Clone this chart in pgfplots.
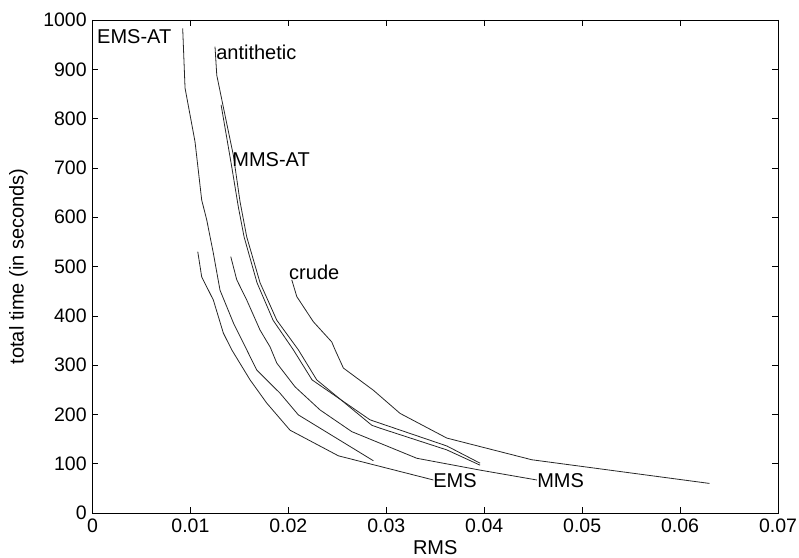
\documentclass[border=0pt]{standalone}
\usepackage{fontspec}
\setmainfont{Liberation Sans}
\usepackage{pgfplots}
\pgfplotsset{compat=1.18}

\begin{document}
\fontsize{20pt}{24pt}\selectfont
\begin{tikzpicture}[x=1pt,y=1pt]
\useasboundingbox (-92.5,-44) rectangle (706.5,513);
\begin{axis}[
    scale only axis,
    width=685.5pt, height=493pt,
    xmin=0, xmax=0.07,
    ymin=0, ymax=1000,
    xtick={0,0.01,...,0.07},
    ytick={0,100,...,1000},
    xticklabel style={/pgf/number format/fixed, /pgf/number format/precision=2},
    yticklabel style={/pgf/number format/1000 sep={}},
    scaled x ticks=false,
    /pgf/number format/assume math mode=true,
    tick label style={font=\fontsize{19.5pt}{23pt}\selectfont},
    label style={font=\fontsize{20pt}{24pt}\selectfont},
    xticklabel style={yshift=1pt},
    yticklabel style={xshift=1pt},
    xlabel={RMS},
    ylabel={total time (in seconds)},
    xlabel style={yshift=6pt},
    ylabel style={yshift=2pt},
    tick align=inside,
    major tick length=6pt,
    axis line style={black, line width=0.8pt},
    every tick/.style={black, line width=0.6pt},
    clip=false,
]
% EMS-AT
\addplot[black!85, line width=0.8pt] coordinates {
 (0.00921,983) (0.00945,862) (0.01047,753) (0.01115,635) (0.01167,594)
 (0.01234,527) (0.01302,452) (0.0144,385) (0.01575,331)
 (0.01677,290) (0.01915,243) (0.02102,199) (0.02868,106)
};
% EMS
\addplot[black!85, line width=0.8pt] coordinates {
 (0.01075,530) (0.01115,479) (0.01234,432) (0.01336,365) (0.01422,331)
 (0.01609,270) (0.01779,223) (0.02017,168) (0.02511,116) (0.03481,67)
};
% MMS
\addplot[black!85, line width=0.8pt] coordinates {
 (0.01412,520) (0.01473,473) (0.01575,432) (0.01711,371) (0.01813,337)
 (0.01882,304) (0.02068,256) (0.02324,209) (0.02648,165) (0.03312,111)
 (0.03958,87) (0.04537,67)
};
% antithetic
\addplot[black!85, line width=0.8pt] coordinates {
 (0.01251,946) (0.01269,888) (0.01353,807) (0.01438,726) (0.01507,631)
 (0.01575,560) (0.01711,467) (0.01882,391) (0.02102,331) (0.02290,270)
 (0.02852,178) (0.02937,172) (0.03618,128) (0.03958,97)
};
% MMS-AT
\addplot[black!85, line width=0.8pt] coordinates {
 (0.01313,828) (0.01422,702) (0.01489,621) (0.01548,560) (0.01680,467)
 (0.01844,391) (0.02051,331) (0.02242,270) (0.02834,189) (0.02937,182)
 (0.03618,136) (0.03958,101)
};
% crude
\addplot[black!85, line width=0.8pt] coordinates {
 (0.02035,473) (0.02086,439) (0.02255,388) (0.02443,347) (0.02477,331)
 (0.02562,294) (0.02868,249) (0.03141,202) (0.03618,152) (0.04486,108)
 (0.0630,60)
};
\node[anchor=west, inner sep=0pt] at (axis cs:0.00046,966) {EMS-AT};
\node[anchor=west, inner sep=0pt] at (axis cs:0.01262,935) {antithetic};
\node[anchor=west, inner sep=0pt] at (axis cs:0.01426,716) {MMS-AT};
\node[anchor=west, inner sep=0pt] at (axis cs:0.02007,489) {crude};
\node[anchor=west, inner sep=0pt] at (axis cs:0.03478,65) {EMS};
\node[anchor=west, inner sep=0pt] at (axis cs:0.0454,65) {MMS};
\end{axis}
\end{tikzpicture}
\end{document}
